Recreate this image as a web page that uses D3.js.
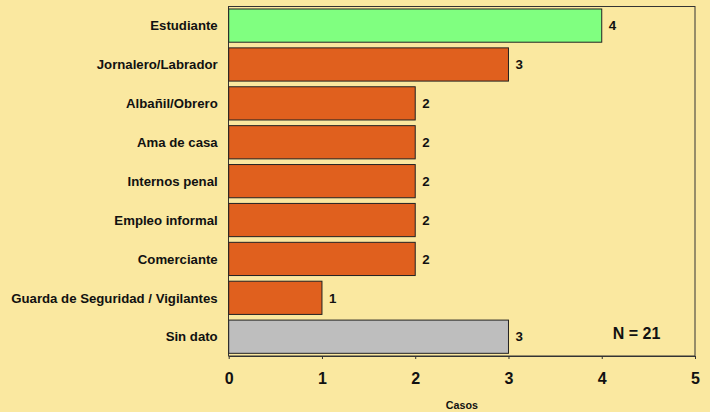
<!DOCTYPE html>
<html><head><meta charset="utf-8">
<script src="https://cdn.jsdelivr.net/npm/d3@7"></script>
<style>
html,body{margin:0;padding:0;background:#FAE8A0;}
svg{display:block;font-family:"Liberation Sans",Arial,sans-serif;}
</style></head>
<body>
<svg id="c" width="710" height="412"></svg>
<script>
const categories = ["Estudiante","Jornalero/Labrador","Albañil/Obrero","Ama de casa","Internos penal","Empleo informal","Comerciante","Guarda de Seguridad / Vigilantes","Sin dato"];
const values = [4,3,2,2,2,2,2,1,3];
const barColors = ["#80FF80","#E0601E","#E0601E","#E0601E","#E0601E","#E0601E","#E0601E","#E0601E","#BEBEBE"];
const xTicks = [0,1,2,3,4,5];
const xTitle = "Casos";
const nLabel = "N = 21";

const svg = d3.select("#c");
const W=710,H=412;
svg.append("rect").attr("width",W).attr("height",H).attr("fill","#FAE8A0");

const x = d3.scaleLinear().domain([0,5]).range([228.7,695]);
const y = d3.scaleBand().domain(categories).range([9-2.85,353.3+2.85]).paddingInner(0.146).paddingOuter(0.073);

// box
svg.append("rect").attr("x",228.5).attr("y",6.5).attr("width",695-228.5).attr("height",356-6.5)
  .attr("fill","none").attr("stroke","#333").attr("stroke-width",1);

svg.selectAll("rect.bar").data(categories).enter().append("rect").attr("class","bar")
  .attr("x",x(0)).attr("y",d=>y(d))
  .attr("width",(d,i)=>x(values[i])-x(0)).attr("height",y.bandwidth())
  .attr("fill",(d,i)=>barColors[i]).attr("stroke","#222").attr("stroke-width",1);

svg.selectAll("text.val").data(categories).enter().append("text")
  .attr("x",(d,i)=>x(values[i])+7).attr("y",d=>y(d)+y.bandwidth()/2)
  .attr("dy","0.36em").attr("font-size",13.3).attr("font-weight","bold").attr("fill","#111")
  .text((d,i)=>values[i]);

svg.selectAll("text.cat").data(categories).enter().append("text")
  .attr("x",217.7).attr("y",d=>y(d)+y.bandwidth()/2)
  .attr("dy","0.36em").attr("text-anchor","end").attr("font-size",13.2).attr("font-weight","bold").attr("fill","#111")
  .text(d=>d);

const ax = d3.axisBottom(x).tickValues(xTicks).tickSize(3).tickSizeOuter(0).tickPadding(14).tickFormat(d3.format("d"));
const g = svg.append("g").attr("transform","translate(0,356)").call(ax);
g.select(".domain").attr("stroke","#333");
g.selectAll(".tick line").attr("stroke","#333");
g.selectAll(".tick text").attr("font-size",16).attr("font-weight","bold").attr("fill","#111")
  .attr("font-family","Liberation Sans, Arial, sans-serif");

svg.append("text").attr("x",(x(0)+x(5))/2).attr("y",408.5).attr("text-anchor","middle")
  .attr("font-size",10.7).attr("font-weight","bold").attr("fill","#111").text(xTitle);

svg.append("text").attr("x",636.5).attr("y",333).attr("dy","0.36em").attr("text-anchor","middle")
  .attr("font-size",16).attr("font-weight","bold").attr("fill","#111").text(nLabel);
</script>
</body></html>
